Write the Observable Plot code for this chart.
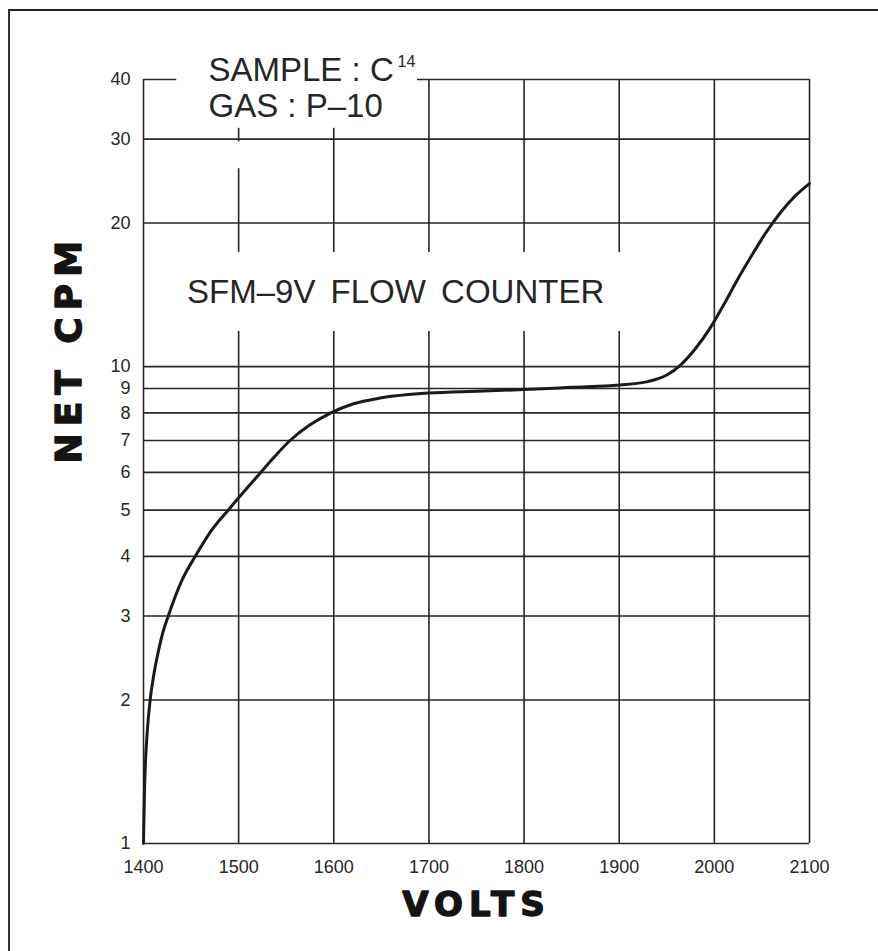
<!DOCTYPE html>
<html>
<head>
<meta charset="utf-8">
<script src="https://cdn.jsdelivr.net/npm/d3@7"></script>
<script src="https://cdn.jsdelivr.net/npm/@observablehq/plot@0.6"></script>
<style>
  body { margin: 0; background: #fff; }
  #wrap { position: relative; width: 878px; height: 951px; overflow: hidden; background: #fff; }
  #chart { position: absolute; left: 0; top: 0; }
  #border { position: absolute; left: 8px; top: 9px; width: 900px; height: 1000px;
            border-left: 2px solid #333; border-top: 2px solid #222; pointer-events: none; }
</style>
</head>
<body>
<div id="wrap"><div id="chart"></div><div id="border"></div></div>
<script>
// ---- data ----
const volts  = [1400, 1401, 1402, 1404, 1407, 1411, 1416, 1421, 1426, 1440, 1456, 1472, 1489, 1505,
                1520, 1537, 1554, 1575, 1597, 1620, 1650, 1700, 1750, 1800, 1850, 1900, 1930,
                1950, 1965, 1980, 1995, 2010, 2025, 2040, 2055, 2070, 2085, 2100];
const netCpm = [1.0, 1.28, 1.47, 1.72, 2.0, 2.27, 2.55, 2.8, 3.0, 3.55, 4.05, 4.55, 5.0, 5.45,
                5.9, 6.45, 7.0, 7.55, 8.0, 8.35, 8.6, 8.8, 8.88, 8.95, 9.05, 9.15, 9.3,
                9.6, 10.1, 10.9, 12.0, 13.5, 15.3, 17.2, 19.2, 21.1, 22.8, 24.2];
const xTicks = [1400, 1500, 1600, 1700, 1800, 1900, 2000, 2100];
const yTicks = [1, 2, 3, 4, 5, 6, 7, 8, 9, 10, 20, 30, 40];
const xLabel = "VOLTS";
const yLabel = "NET CPM";
const sampleLine = "SAMPLE : C";
const sampleSup = "14";
const gasLine = "GAS : P\u201310";
const deviceLine = "SFM\u20139V FLOW COUNTER";

const data = volts.map((v, i) => ({volts: v, cpm: netCpm[i]}));
const ink = "#262626";
const font = "'Liberation Sans', Arial, Helvetica, sans-serif";
const heavy = "'DejaVu Sans', sans-serif";

const chart = Plot.plot({
  width: 878, height: 951,
  marginLeft: 143, marginRight: 69, marginTop: 79, marginBottom: 108,
  x: {domain: [1400, 2100], axis: null},
  y: {type: "log", domain: [1, 40], axis: null},
  style: {fontFamily: font, background: "transparent", color: ink},
  marks: [
    Plot.ruleY(yTicks, {y: d => d, x1: 1400, x2: 2100, stroke: ink, strokeWidth: 1.6}),
    Plot.ruleX(xTicks, {x: d => d, y1: 1, y2: 40, stroke: ink, strokeWidth: 1.6}),
    // white boxes behind the labels (as on the printed chart)
    Plot.rect([0], {x1: 1435, x2: 1688, y1: 31.6, y2: 46, fill: "white"}),
    Plot.rect([0], {x1: 1488, x2: 1512, y1: 26, y2: 29.6, fill: "white"}),
    Plot.rect([0], {x1: 1440, x2: 1950, y1: 11.85, y2: 17.35, fill: "white"}),
    // tick labels
    Plot.text(yTicks, {x: 1400, y: d => d, text: d => String(d), dx: -13, textAnchor: "end",
                       lineAnchor: "middle", fontSize: 18, fill: ink}),
    Plot.text(xTicks, {x: d => d, y: 1, text: d => String(d), dy: 24, lineAnchor: "middle",
                       fontSize: 18, fill: ink}),
    // axis titles
    Plot.text([yLabel], {x: 1400, y: 10.9, dx: -74, text: d => d, rotate: -90, lineAnchor: "middle",
                         fontSize: 36, fontWeight: "bold", fontFamily: heavy, fill: "#141414",
                         stroke: "#141414", strokeWidth: 1.4}),
    Plot.text([xLabel], {x: 1750, y: 1, dy: 62, text: d => d, lineAnchor: "middle",
                         fontSize: 34, fontWeight: "bold", fontFamily: heavy, fill: "#141414",
                         stroke: "#141414", strokeWidth: 1.4}),
    // annotations
    Plot.text([sampleLine], {x: 1400, y: 40, dx: 65, dy: -9, text: d => d, textAnchor: "start",
                             lineAnchor: "middle", fontSize: 33, fill: ink}),
    Plot.text([sampleSup], {x: 1400, y: 40, dx: 254, dy: -18, text: d => d, textAnchor: "start",
                            lineAnchor: "middle", fontSize: 16, fill: ink}),
    Plot.text([gasLine], {x: 1400, y: 40, dx: 65, dy: 27, text: d => d, textAnchor: "start",
                          lineAnchor: "middle", fontSize: 33, fill: ink}),
    Plot.text([deviceLine], {x: 1665, y: 14.3, text: d => d, lineAnchor: "middle",
                             fontSize: 33, fill: ink}),
    // the curve
    Plot.line(data, {x: "volts", y: "cpm", curve: "monotone-x", stroke: "#1a1a1a", strokeWidth: 3})
  ]
});

d3.select(chart).selectAll("text").each(function () {
  const t = this.textContent;
  if (t === yLabel) d3.select(this).style("letter-spacing", "7px");
  if (t === xLabel) d3.select(this).style("letter-spacing", "6px");
  if (t === deviceLine) d3.select(this).style("word-spacing", "6px");
});

document.getElementById("chart").appendChild(chart);
</script>
</body>
</html>
